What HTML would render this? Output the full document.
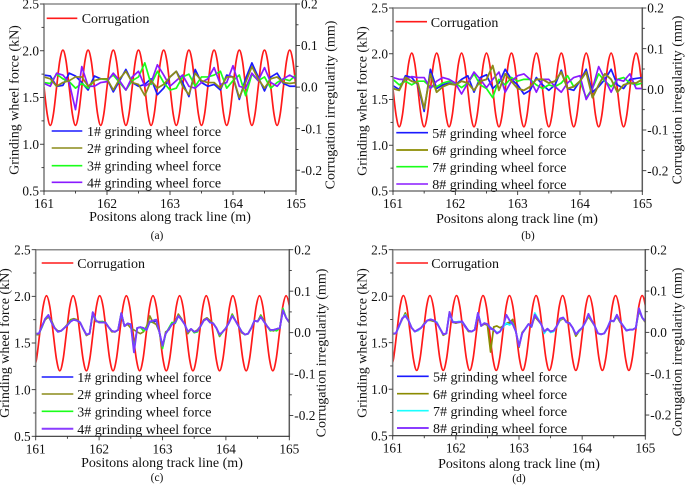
<!DOCTYPE html>
<html lang="en">
<head>
<meta charset="utf-8">
<title>Grinding wheel force and corrugation</title>
<style>
html,body{margin:0;padding:0;background:#fff;}
svg{display:block;}
text{font-family:"Liberation Serif",serif;fill:#111;}
.t{font-size:14px;}
.c{font-size:11.5px;}
</style>
</head>
<body>
<svg id="chart" width="685" height="485" viewBox="0 0 685 485" xmlns="http://www.w3.org/2000/svg">
<g>
<text class="t" transform="translate(18.5,100) rotate(-90)" text-anchor="middle">Grinding wheel force (kN)</text>
<text class="t" transform="translate(334.5,105) rotate(-90)" text-anchor="middle">Corrugation irregularity (mm)</text>
<text class="t" x="170" y="221" text-anchor="middle">Positons along track line (m)</text>
<text class="c" x="157" y="239" text-anchor="middle">(a)</text>
<line x1="46.7" x2="77.3" y1="18.3" y2="18.3" stroke="#ff1a1a" stroke-width="1.6"/>
<text class="t" x="81.7" y="23">Corrugation</text>
<line x1="51.7" x2="82.3" y1="131" y2="131" stroke="#1a1aff" stroke-width="1.6"/>
<text class="t" x="87" y="136">1# grinding wheel force</text>
<line x1="51.7" x2="82.3" y1="148" y2="148" stroke="#8b8b1a" stroke-width="1.6"/>
<text class="t" x="87" y="153">2# grinding wheel force</text>
<line x1="51.7" x2="82.3" y1="165.7" y2="165.7" stroke="#1aff1a" stroke-width="1.6"/>
<text class="t" x="87" y="170.5">3# grinding wheel force</text>
<line x1="51.7" x2="82.3" y1="182.3" y2="182.3" stroke="#8a1aff" stroke-width="1.6"/>
<text class="t" x="87" y="187.5">4# grinding wheel force</text>
</g>
<g>
<text class="t" transform="translate(366.5,101) rotate(-90)" text-anchor="middle">Grinding wheel force (kN)</text>
<text class="t" transform="translate(681.5,100) rotate(-90)" text-anchor="middle">Corrugation irregularity (mm)</text>
<text class="t" x="517" y="223" text-anchor="middle">Positons along track line (m)</text>
<text class="c" x="528" y="239" text-anchor="middle">(b)</text>
<line x1="395.7" x2="427" y1="21.7" y2="21.7" stroke="#ff1a1a" stroke-width="1.6"/>
<text class="t" x="430.7" y="27">Corrugation</text>
<line x1="396.3" x2="428" y1="132.7" y2="132.7" stroke="#1a1aff" stroke-width="1.6"/>
<text class="t" x="432.3" y="138">5# grinding wheel force</text>
<line x1="396.3" x2="428" y1="150" y2="150" stroke="#9a9a20" stroke-width="2"/>
<text class="t" x="432.3" y="155">6# grinding wheel force</text>
<line x1="396.3" x2="428" y1="166.7" y2="166.7" stroke="#1aff1a" stroke-width="1.6"/>
<text class="t" x="432.3" y="172">7# grinding wheel force</text>
<line x1="396.3" x2="428" y1="184" y2="184" stroke="#8a1aff" stroke-width="1.6"/>
<text class="t" x="432.3" y="189">8# grinding wheel force</text>
</g>
<g>
<text class="t" transform="translate(9,343) rotate(-90)" text-anchor="middle">Grinding wheel force (kN)</text>
<text class="t" transform="translate(325.5,353) rotate(-90)" text-anchor="middle">Corrugation irregularity (mm)</text>
<text class="t" x="162" y="467" text-anchor="middle">Positons along track line (m)</text>
<text class="c" x="157" y="481" text-anchor="middle">(c)</text>
<line x1="41.7" x2="73.3" y1="263" y2="263" stroke="#ff1a1a" stroke-width="1.6"/>
<text class="t" x="77.3" y="268">Corrugation</text>
<line x1="41.7" x2="73.3" y1="377" y2="377" stroke="#1a1aff" stroke-width="1.6"/>
<text class="t" x="77.3" y="382">1# grinding wheel force</text>
<line x1="41.7" x2="73.3" y1="394" y2="394" stroke="#8b8b1a" stroke-width="1.6"/>
<text class="t" x="77.3" y="399">2# grinding wheel force</text>
<line x1="41.7" x2="73.3" y1="411.3" y2="411.3" stroke="#1aff1a" stroke-width="1.6"/>
<text class="t" x="77.3" y="416.5">3# grinding wheel force</text>
<line x1="41.7" x2="73.3" y1="428.7" y2="428.7" stroke="#8a3cff" stroke-width="2"/>
<text class="t" x="77.3" y="434">4# grinding wheel force</text>
</g>
<g>
<text class="t" transform="translate(366.5,343) rotate(-90)" text-anchor="middle">Grinding wheel force (kN)</text>
<text class="t" transform="translate(681.5,352) rotate(-90)" text-anchor="middle">Corrugation irregularity (mm)</text>
<text class="t" x="519" y="468" text-anchor="middle">Positons along track line (m)</text>
<text class="c" x="519" y="482" text-anchor="middle">(d)</text>
<line x1="396.3" x2="428" y1="263" y2="263" stroke="#ff1a1a" stroke-width="1.6"/>
<text class="t" x="431.3" y="268">Corrugation</text>
<line x1="397" x2="428.7" y1="376.3" y2="376.3" stroke="#1a1aff" stroke-width="1.6"/>
<text class="t" x="433" y="381.5">5# grinding wheel force</text>
<line x1="397" x2="428.7" y1="393.7" y2="393.7" stroke="#8b8b00" stroke-width="1.6"/>
<text class="t" x="433" y="399">6# grinding wheel force</text>
<line x1="397" x2="428.7" y1="410.7" y2="410.7" stroke="#1affff" stroke-width="1.6"/>
<text class="t" x="433" y="416">7# grinding wheel force</text>
<line x1="397" x2="428.7" y1="428" y2="428" stroke="#8a3cff" stroke-width="2"/>
<text class="t" x="433" y="433">8# grinding wheel force</text>
</g>
</svg>
<script>
var leftTicks = [0.5, 1.0, 1.5, 2.0, 2.5];
var rightTicks = [-0.2, -0.1, 0.0, 0.1, 0.2];
var xTicks = [161, 162, 163, 164, 165];

// Corrugation irregularity (mm), panels a and b: samples from 161.00 m every 0.05 m
var corrugationAB = [
0,-.064,-.092,-.064,0,.063,.089,.063, 0,-.064,-.092,-.064,0,.063,.089,.063,
0,-.064,-.092,-.064,0,.063,.089,.063, 0,-.064,-.092,-.064,0,.063,.089,.063,
0,-.064,-.092,-.064,0,.063,.089,.063, 0,-.064,-.092,-.064,0,.063,.089,.063,
0,-.064,-.092,-.064,0,.063,.089,.063, 0,-.064,-.092,-.064,0,.063,.089,.063,
0,-.064,-.092,-.064,0,.063,.089,.063, 0,-.064,-.092,-.064,0,.063,.089,.063, 0];
// Corrugation irregularity (mm), panels c and d: samples from 160.96 m every 0.0525 m
var corrugationCD = [
-.092,-.064,0,.063,.089,.063,0,-.064, -.092,-.064,0,.063,.089,.063,0,-.064,
-.092,-.064,0,.063,.089,.063,0,-.064, -.092,-.064,0,.063,.089,.063,0,-.064,
-.092,-.064,0,.063,.089,.063,0,-.064, -.092,-.064,0,.063,.089,.063,0,-.064,
-.092,-.064,0,.063,.089,.063,0,-.064, -.092,-.064,0,.063,.089,.063,0,-.064,
-.092,-.064,0,.063,.089,.063,0,-.064, -.092,-.064,0,.063,.089,.063,0,-.064];

// Force (kN), panel a: samples every 0.1 m
var forceA1 = [1.74,1.73,1.62,1.63,1.76,1.73,1.66,1.58,1.73,1.70,
1.70,1.56,1.68,1.80,1.66,1.62,1.64,1.70,1.53,1.60,
1.72,1.78,1.66,1.51,1.80,1.66,1.62,1.64,1.58,1.74,
1.72,1.48,1.70,1.87,1.72,1.57,1.72,1.76,1.65,1.62,1.62];
var forceA2 = [1.72,1.70,1.62,1.66,1.68,1.72,1.72,1.62,1.68,1.70,
1.70,1.58,1.70,1.78,1.66,1.64,1.52,1.68,1.60,1.64,
1.72,1.78,1.62,1.53,1.76,1.68,1.66,1.66,1.60,1.72,
1.72,1.50,1.66,1.83,1.70,1.60,1.70,1.72,1.66,1.65,1.66];
var forceA3 = [1.66,1.65,1.75,1.70,1.67,1.60,1.65,1.60,1.68,1.70,
1.69,1.74,1.66,1.58,1.68,1.72,1.87,1.64,1.78,1.66,
1.58,1.60,1.72,1.75,1.62,1.72,1.72,1.74,1.78,1.60,
1.68,1.74,1.52,1.75,1.68,1.72,1.60,1.66,1.70,1.68,1.74];
var forceA4 = [1.65,1.62,1.76,1.74,1.66,1.37,1.83,1.62,1.62,1.66,
1.67,1.76,1.68,1.58,1.72,1.78,1.62,1.66,1.85,1.74,
1.62,1.68,1.74,1.62,1.60,1.66,1.70,1.82,1.64,1.66,
1.84,1.62,1.60,1.76,1.68,1.82,1.66,1.62,1.70,1.74,1.70];

// Force (kN), panel b: samples every 0.1 m
var forceB5 = [1.65,1.61,1.76,1.74,1.66,1.37,1.83,1.62,1.66,1.68,
1.66,1.72,1.76,1.58,1.74,1.77,1.62,1.68,1.83,1.72,
1.66,1.56,1.60,1.74,1.66,1.60,1.66,1.82,1.62,1.60,
1.70,1.83,1.58,1.64,1.72,1.83,1.66,1.62,1.72,1.73,1.74];
var forceB6 = [1.62,1.60,1.74,1.70,1.68,1.40,1.78,1.58,1.64,1.67,
1.66,1.70,1.68,1.60,1.70,1.72,1.87,1.60,1.78,1.70,
1.62,1.60,1.64,1.72,1.72,1.68,1.70,1.80,1.62,1.64,
1.70,1.80,1.52,1.66,1.78,1.72,1.58,1.66,1.68,1.68,1.72];
var forceB7 = [1.72,1.66,1.70,1.66,1.70,1.70,1.64,1.64,1.68,1.70,
1.68,1.63,1.68,1.78,1.66,1.62,1.52,1.72,1.66,1.74,
1.70,1.72,1.72,1.66,1.62,1.66,1.64,1.68,1.76,1.64,
1.70,1.52,1.62,1.78,1.70,1.64,1.72,1.74,1.68,1.66,1.68];
var forceB8 = [1.74,1.72,1.72,1.75,1.74,1.74,1.62,1.70,1.74,1.72,
1.68,1.56,1.68,1.80,1.72,1.63,1.72,1.80,1.58,1.70,
1.76,1.78,1.72,1.58,1.72,1.72,1.64,1.58,1.68,1.74,
1.76,1.50,1.62,1.86,1.72,1.58,1.72,1.70,1.78,1.62,1.62];

// Force (kN), panel c: samples every 0.05 m
var forceC1 = [1.60,1.60,1.68,1.76,1.80,1.72,1.66,1.62,1.63,1.66,
1.69,1.73,1.75,1.74,1.72,1.65,1.59,1.60,1.83,1.74,
1.72,1.72,1.72,1.67,1.63,1.62,1.64,1.82,1.68,1.71,
1.70,1.42,1.66,1.67,1.66,1.64,1.73,1.72,1.74,1.62,
1.46,1.60,1.65,1.70,1.72,1.80,1.75,1.70,1.62,1.65,
1.62,1.63,1.68,1.74,1.76,1.72,1.71,1.66,1.59,1.62,
1.66,1.72,1.80,1.74,1.68,1.62,1.59,1.60,1.66,1.74,
1.73,1.78,1.73,1.68,1.64,1.64,1.65,1.66,1.85,1.77,1.72];
var forceC2 = [1.59,1.59,1.68,1.75,1.78,1.74,1.66,1.63,1.63,1.66,
1.70,1.75,1.76,1.75,1.72,1.65,1.58,1.60,1.81,1.73,
1.73,1.73,1.72,1.67,1.62,1.62,1.64,1.80,1.68,1.70,
1.66,1.64,1.62,1.60,1.62,1.68,1.79,1.72,1.70,1.62,
1.45,1.62,1.64,1.71,1.73,1.81,1.76,1.70,1.60,1.65,
1.62,1.64,1.68,1.75,1.77,1.74,1.71,1.66,1.57,1.62,
1.66,1.72,1.81,1.74,1.68,1.61,1.59,1.60,1.66,1.74,
1.73,1.80,1.74,1.68,1.64,1.63,1.65,1.66,1.86,1.77,1.72];
var forceC3 = [1.60,1.60,1.67,1.76,1.79,1.72,1.66,1.62,1.63,1.66,
1.69,1.74,1.75,1.74,1.72,1.65,1.59,1.60,1.82,1.74,
1.72,1.73,1.72,1.67,1.63,1.62,1.64,1.82,1.68,1.71,
1.70,1.44,1.66,1.67,1.63,1.66,1.72,1.74,1.75,1.62,
1.44,1.60,1.66,1.72,1.71,1.79,1.75,1.70,1.62,1.65,
1.61,1.62,1.68,1.74,1.76,1.72,1.71,1.66,1.58,1.62,
1.66,1.72,1.80,1.74,1.68,1.62,1.59,1.60,1.66,1.74,
1.73,1.79,1.73,1.68,1.63,1.64,1.63,1.66,1.87,1.77,1.72];
var forceC4 = [1.60,1.60,1.68,1.76,1.80,1.72,1.66,1.62,1.63,1.66,
1.69,1.73,1.75,1.74,1.72,1.65,1.59,1.60,1.83,1.74,
1.72,1.72,1.72,1.67,1.63,1.62,1.64,1.82,1.68,1.71,
1.70,1.40,1.66,1.67,1.66,1.64,1.73,1.74,1.75,1.62,
1.47,1.60,1.65,1.70,1.72,1.79,1.75,1.70,1.62,1.65,
1.62,1.63,1.68,1.74,1.76,1.72,1.71,1.66,1.59,1.62,
1.66,1.72,1.79,1.74,1.68,1.62,1.59,1.60,1.66,1.74,
1.73,1.78,1.73,1.68,1.64,1.64,1.65,1.66,1.85,1.77,1.72];

// Force (kN), panel d: samples every 0.05 m
var forceD5 = [1.60,1.60,1.68,1.76,1.79,1.74,1.66,1.62,1.64,1.66,
1.70,1.74,1.75,1.74,1.71,1.65,1.59,1.60,1.82,1.72,
1.72,1.72,1.73,1.68,1.63,1.62,1.64,1.82,1.68,1.71,
1.70,1.66,1.64,1.60,1.62,1.68,1.70,1.70,1.72,1.62,
1.47,1.60,1.65,1.70,1.67,1.80,1.75,1.70,1.62,1.65,
1.62,1.63,1.68,1.75,1.77,1.72,1.71,1.66,1.59,1.63,
1.66,1.72,1.80,1.74,1.68,1.60,1.59,1.60,1.66,1.74,
1.73,1.80,1.73,1.68,1.63,1.64,1.64,1.66,1.86,1.77,1.73];
var forceD6 = [1.59,1.60,1.68,1.75,1.82,1.74,1.66,1.62,1.63,1.66,
1.71,1.74,1.74,1.73,1.72,1.65,1.58,1.60,1.83,1.72,
1.71,1.72,1.72,1.67,1.62,1.62,1.64,1.80,1.68,1.70,
1.69,1.40,1.67,1.68,1.66,1.68,1.71,1.72,1.75,1.62,
1.45,1.61,1.65,1.70,1.68,1.78,1.74,1.70,1.62,1.64,
1.62,1.63,1.68,1.74,1.76,1.73,1.71,1.66,1.57,1.62,
1.66,1.72,1.78,1.73,1.68,1.60,1.59,1.60,1.66,1.73,
1.73,1.78,1.72,1.68,1.63,1.64,1.64,1.66,1.84,1.77,1.72];
var forceD7 = [1.60,1.60,1.67,1.76,1.80,1.74,1.66,1.62,1.63,1.66,
1.70,1.74,1.75,1.74,1.72,1.65,1.59,1.60,1.82,1.73,
1.72,1.73,1.72,1.67,1.63,1.62,1.64,1.81,1.68,1.71,
1.70,1.65,1.64,1.61,1.62,1.67,1.71,1.69,1.71,1.62,
1.47,1.60,1.65,1.70,1.68,1.82,1.76,1.70,1.60,1.65,
1.61,1.62,1.68,1.75,1.77,1.72,1.71,1.66,1.59,1.62,
1.66,1.72,1.80,1.74,1.68,1.60,1.59,1.60,1.66,1.74,
1.73,1.79,1.73,1.68,1.64,1.64,1.64,1.66,1.86,1.77,1.73];
var forceD8 = [1.60,1.60,1.68,1.76,1.79,1.74,1.66,1.62,1.64,1.66,
1.70,1.74,1.75,1.74,1.71,1.65,1.59,1.60,1.83,1.72,
1.72,1.72,1.73,1.67,1.63,1.62,1.64,1.82,1.68,1.71,
1.70,1.65,1.64,1.60,1.62,1.68,1.80,1.74,1.70,1.62,
1.46,1.60,1.65,1.70,1.68,1.80,1.75,1.70,1.62,1.65,
1.62,1.63,1.68,1.76,1.77,1.72,1.71,1.66,1.59,1.63,
1.66,1.72,1.81,1.74,1.68,1.60,1.59,1.60,1.66,1.74,
1.73,1.80,1.73,1.68,1.63,1.64,1.64,1.66,1.87,1.77,1.73];

var svg = document.getElementById('chart');
var NS = 'http://www.w3.org/2000/svg';

function make(tag, parent, name, attrs) {
  var el = document.createElementNS(NS, tag);
  
  
  for (var k in attrs) { el.setAttribute(k, attrs[k]); }
  parent.appendChild(el);
  return el;
}

function smoothPath(pts) {
  var d = 'M' + pts[0][0].toFixed(2) + ' ' + pts[0][1].toFixed(2);
  for (var i = 0; i < pts.length - 1; i++) {
    var p0 = pts[Math.max(i - 1, 0)], p1 = pts[i], p2 = pts[i + 1], p3 = pts[Math.min(i + 2, pts.length - 1)];
    d += 'C' + (p1[0] + (p2[0] - p0[0]) / 6).toFixed(2) + ' ' + (p1[1] + (p2[1] - p0[1]) / 6).toFixed(2) +
         ' ' + (p2[0] - (p3[0] - p1[0]) / 6).toFixed(2) + ' ' + (p2[1] - (p3[1] - p1[1]) / 6).toFixed(2) +
         ' ' + p2[0].toFixed(2) + ' ' + p2[1].toFixed(2);
  }
  return d;
}

function polyPath(pts) {
  return 'M' + pts.map(function (p) { return p[0].toFixed(2) + ' ' + p[1].toFixed(2); }).join('L');
}

function drawPanel(cfg) {
  var g = make('g', svg, 'panel-' + cfg.id, {});
  function xAxis(v) { return cfg.L + (v - 161) / 4 * (cfg.R - cfg.L); }
  function yLeft(v) { return cfg.B - (v - 0.5) / 2 * (cfg.B - cfg.T); }
  function yRight(v) { return cfg.T + (0.2 - v) / 0.45 * (cfg.B - cfg.T); }

  var clip = make('clipPath', g, 'panel-clip', { id: 'clip-' + cfg.id });
  make('rect', clip, 'panel-clip-area', { x: cfg.L, y: cfg.T, width: cfg.R - cfg.L, height: cfg.B - cfg.T });

  var marks = make('g', g, 'series-group', { 'clip-path': 'url(#clip-' + cfg.id + ')', fill: 'none', 'stroke-linejoin': 'round' });

  var cPts = cfg.corr.map(function (v, i) { return [xAxis(cfg.corrStart + i * cfg.corrStep), yRight(v)]; });
  make('path', marks, 'corrugation-line', { d: smoothPath(cPts), stroke: '#ff1a1a', 'stroke-width': 1.7 });

  cfg.series.forEach(function (s) {
    var pts = s.values.map(function (v, i) { return [xAxis(161 + i * cfg.forceStep), yLeft(v)]; });
    make('path', marks, s.name, { d: polyPath(pts), stroke: s.color, 'stroke-width': s.width });
  });

  var gAxis = make('g', g, 'axes', {});
  make('line', gAxis, 'top-axis-line', { x1: cfg.L, x2: cfg.R, y1: cfg.T, y2: cfg.T, stroke: '#8c8c8c', 'stroke-width': 1.5 });
  make('line', gAxis, 'left-axis-line', { x1: cfg.L, x2: cfg.L, y1: cfg.T - 0.6, y2: cfg.B + 0.6, stroke: '#808080', 'stroke-width': 1.6 });
  make('line', gAxis, 'right-axis-line', { x1: cfg.R, x2: cfg.R, y1: cfg.T - 0.6, y2: cfg.B + 0.6, stroke: '#5c5c5c', 'stroke-width': 1.5 });
  make('line', gAxis, 'bottom-axis-line', { x1: cfg.L, x2: cfg.R, y1: cfg.B, y2: cfg.B, stroke: '#333', 'stroke-width': 1.1 });

  leftTicks.forEach(function (v, i) {
    var y = yLeft(v);
    make('line', gAxis, 'left-tick', { x1: cfg.L - 4, x2: cfg.L, y1: y, y2: y, stroke: '#333', 'stroke-width': 0.9 });
    var lab = make('text', gAxis, 'left-tick-label', { x: cfg.L - 5, y: y + 4.6, 'text-anchor': 'end', 'font-size': 13.3 });
    lab.textContent = v.toFixed(1);
    if (i < leftTicks.length - 1) {
      var m = yLeft((v + leftTicks[i + 1]) / 2);
      make('line', gAxis, 'left-minor-tick', { x1: cfg.L - 2.5, x2: cfg.L, y1: m, y2: m, stroke: '#333', 'stroke-width': 0.9 });
    }
  });

  rightTicks.forEach(function (v, i) {
    var y = yRight(v);
    make('line', gAxis, 'right-tick', { x1: cfg.R, x2: cfg.R + 4, y1: y, y2: y, stroke: '#333', 'stroke-width': 0.9 });
    var lab = make('text', gAxis, 'right-tick-label', { x: cfg.R + 5, y: y + 4.6, 'font-size': 13.3 });
    lab.textContent = v.toFixed(1);
    if (i < rightTicks.length - 1) {
      var m = yRight((v + rightTicks[i + 1]) / 2);
      make('line', gAxis, 'right-minor-tick', { x1: cfg.R, x2: cfg.R + 2.5, y1: m, y2: m, stroke: '#333', 'stroke-width': 0.9 });
    }
  });

  xTicks.forEach(function (v, i) {
    var x = xAxis(v);
    make('line', gAxis, 'x-tick', { x1: x, x2: x, y1: cfg.B, y2: cfg.B + 4, stroke: '#333', 'stroke-width': 0.9 });
    var lab = make('text', gAxis, 'x-tick-label', { x: x, y: cfg.B + 17, 'text-anchor': 'middle', 'font-size': 13.3 });
    lab.textContent = String(v);
    if (i < xTicks.length - 1) {
      var m = xAxis(v + 0.5);
      make('line', gAxis, 'x-minor-tick', { x1: m, x2: m, y1: cfg.B, y2: cfg.B + 2.5, stroke: '#333', 'stroke-width': 0.9 });
    }
  });
}

drawPanel({ id: 'a', L: 44, R: 296, T: 4, B: 191, corr: corrugationAB, corrStart: 161, corrStep: 0.05, forceStep: 0.1, series: [
  { name: 'force-line-1', values: forceA1, color: '#1a1aff', width: 1.7 },
  { name: 'force-line-3', values: forceA3, color: '#1aff1a', width: 1.7 },
  { name: 'force-line-4', values: forceA4, color: '#8a1aff', width: 1.7 },
  { name: 'force-line-2', values: forceA2, color: '#8b8b1a', width: 1.7 }
] });
drawPanel({ id: 'b', L: 393, R: 642.3, T: 8, B: 191, corr: corrugationAB, corrStart: 161, corrStep: 0.05, forceStep: 0.1, series: [
  { name: 'force-line-5', values: forceB5, color: '#1a1aff', width: 1.7 },
  { name: 'force-line-7', values: forceB7, color: '#1aff1a', width: 1.7 },
  { name: 'force-line-8', values: forceB8, color: '#8a1aff', width: 1.7 },
  { name: 'force-line-6', values: forceB6, color: '#8b8b1a', width: 1.9 }
] });
drawPanel({ id: 'c', L: 35.7, R: 289.3, T: 249.7, B: 436.3, corr: corrugationCD, corrStart: 160.96, corrStep: 0.0525, forceStep: 0.05, series: [
  { name: 'force-line-1', values: forceC1, color: '#1a1aff', width: 1.6 },
  { name: 'force-line-2', values: forceC2, color: '#8b8b1a', width: 1.7 },
  { name: 'force-line-3', values: forceC3, color: '#1aff1a', width: 1.7 },
  { name: 'force-line-4', values: forceC4, color: '#7a3cff', width: 1.9 }
] });
drawPanel({ id: 'd', L: 392.7, R: 645.3, T: 249.7, B: 435.7, corr: corrugationCD, corrStart: 160.96, corrStep: 0.0525, forceStep: 0.05, series: [
  { name: 'force-line-5', values: forceD5, color: '#1a1aff', width: 1.6 },
  { name: 'force-line-6', values: forceD6, color: '#8b8b00', width: 1.7 },
  { name: 'force-line-7', values: forceD7, color: '#1affff', width: 1.7 },
  { name: 'force-line-8', values: forceD8, color: '#7a3cff', width: 1.9 }
] });
</script>
</body>
</html>
